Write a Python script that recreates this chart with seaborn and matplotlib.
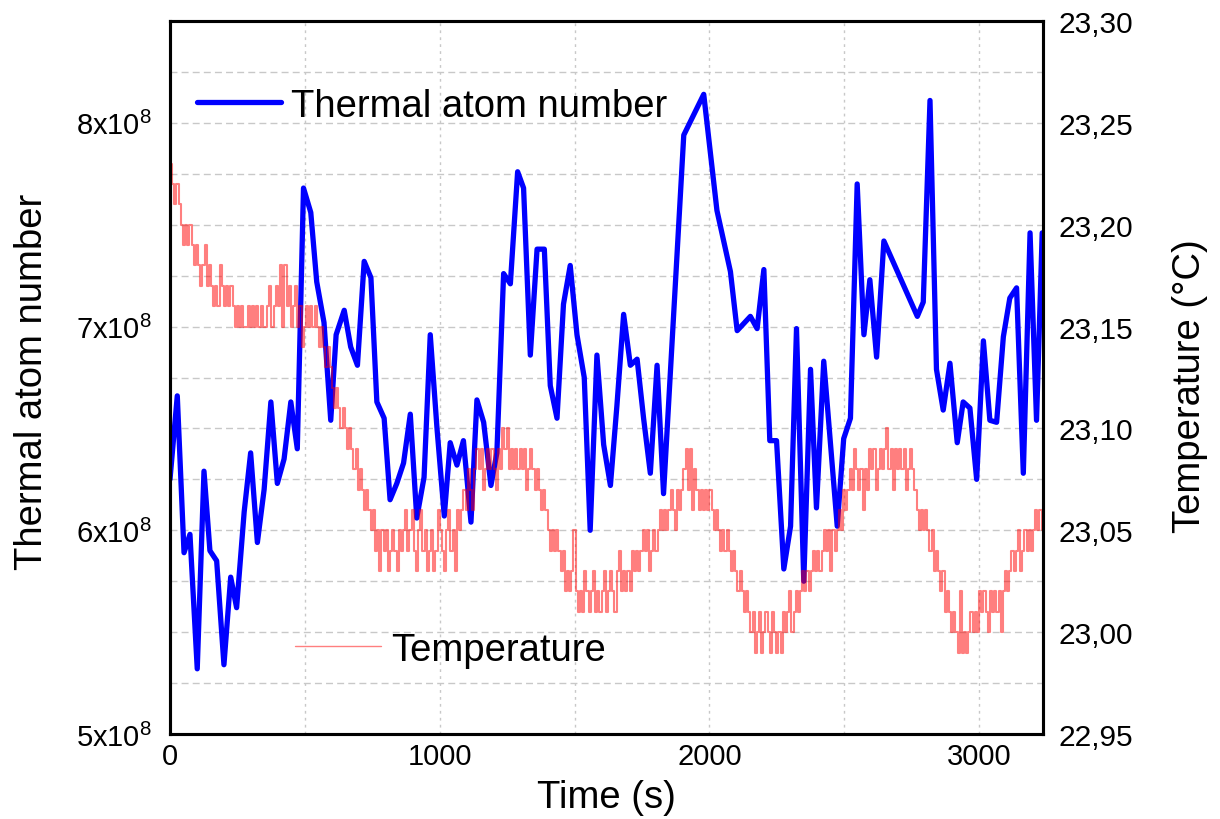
import numpy as np
import pandas as pd
import matplotlib
matplotlib.use("Agg")
import matplotlib.pyplot as plt
import seaborn as sns
from matplotlib.ticker import MultipleLocator, FuncFormatter
from matplotlib.lines import Line2D

# ---------------- data ----------------
atom_time_s = [0, 27, 52, 74, 101, 126, 148, 173, 200, 225, 247, 275, 299, 324, 349, 374,
               398, 423, 448, 472, 495, 522, 544, 571, 596, 616, 646, 670, 695, 720, 745,
               767, 794, 816, 841, 866, 891, 915, 942, 965, 990, 1017, 1039, 1064, 1088,
               1116, 1138, 1163, 1190, 1212, 1237, 1262, 1289, 1311, 1336, 1361, 1388,
               1410, 1435, 1459, 1484, 1509, 1536, 1558, 1583, 1608, 1633, 1657, 1682,
               1707, 1732, 1756, 1781, 1806, 1830, 1905, 1979, 2028, 2078, 2103, 2152,
               2177, 2202, 2224, 2249, 2276, 2301, 2323, 2350, 2375, 2397, 2424, 2474,
               2498, 2523, 2548, 2573, 2595, 2620, 2647, 2771, 2793, 2818, 2842, 2867,
               2892, 2919, 2941, 2966, 2991, 3016, 3040, 3065, 3090, 3114, 3139, 3164,
               3189, 3213, 3234]
atom_number_1e8 = [6.25, 6.66, 5.89, 5.98, 5.32, 6.29, 5.90, 5.85, 5.34, 5.77, 5.62, 6.09,
                   6.38, 5.94, 6.20, 6.63, 6.23, 6.35, 6.63, 6.40, 7.68, 7.56, 7.22, 7.02,
                   6.54, 6.96, 7.08, 6.90, 6.81, 7.32, 7.24, 6.63, 6.55, 6.15, 6.23, 6.33,
                   6.57, 6.06, 6.26, 6.96, 6.50, 6.07, 6.43, 6.32, 6.44, 6.04, 6.64, 6.53,
                   6.22, 6.38, 7.26, 7.21, 7.76, 7.68, 6.86, 7.38, 7.38, 6.71, 6.55, 7.11,
                   7.30, 6.96, 6.75, 6.00, 6.86, 6.42, 6.22, 6.61, 7.06, 6.81, 6.84, 6.55,
                   6.28, 6.81, 6.18, 7.94, 8.14, 7.57, 7.27, 6.98, 7.05, 6.99, 7.28, 6.44,
                   6.44, 5.81, 6.02, 6.99, 5.75, 6.79, 6.11, 6.83, 6.02, 6.45, 6.55, 7.70,
                   6.96, 7.23, 6.85, 7.42, 7.05, 7.12, 8.11, 6.79, 6.59, 6.82, 6.43, 6.63,
                   6.60, 6.25, 6.93, 6.54, 6.53, 6.95, 7.14, 7.19, 6.28, 7.46, 6.54, 7.46]

# temperature in units of 0.01 degC, one reading every 8 s
TEMP_SAMPLE_S = 8
temp_centideg = [
    2323, 2322, 2321, 2322, 2321, 2320, 2319, 2320, 2319, 2320,
    2319, 2318, 2319, 2318, 2317, 2318, 2319, 2317, 2318, 2317,
    2316, 2317, 2316, 2318, 2317, 2316, 2317, 2316, 2317, 2316,
    2315, 2316, 2315, 2316, 2315, 2315, 2316, 2315, 2316, 2315,
    2316, 2315, 2316, 2315, 2315, 2316, 2317, 2315, 2316, 2317,
    2316, 2318, 2315, 2318, 2316, 2317, 2315, 2316, 2317, 2315,
    2316, 2314, 2315, 2316, 2315, 2316, 2315, 2316, 2315, 2314,
    2315, 2314, 2313, 2314, 2313, 2312, 2311, 2312, 2311, 2310,
    2311, 2310, 2309, 2310, 2309, 2308, 2309, 2307, 2308, 2307,
    2306, 2307, 2306, 2305, 2306, 2304, 2305, 2303, 2305, 2304,
    2305, 2303, 2304, 2305, 2304, 2303, 2305, 2304, 2305, 2306,
    2304, 2305, 2306, 2304, 2303, 2305, 2306, 2304, 2305, 2303,
    2304, 2305, 2303, 2304, 2306, 2305, 2304, 2303, 2305, 2306,
    2304, 2305, 2303, 2306, 2305, 2306, 2307, 2306, 2308, 2307,
    2306, 2308, 2309, 2308, 2309, 2307, 2308, 2309, 2308, 2309,
    2308, 2307, 2309, 2308, 2310, 2309, 2310, 2308, 2309, 2308,
    2309, 2308, 2309, 2308, 2309, 2307, 2308, 2309, 2308, 2307,
    2308, 2307, 2306, 2307, 2306, 2305, 2304, 2305, 2304, 2305,
    2304, 2303, 2304, 2302, 2303, 2302, 2303, 2305, 2302, 2301,
    2302, 2301, 2303, 2302, 2301, 2302, 2303, 2301, 2302, 2301,
    2302, 2303, 2301, 2302, 2303, 2302, 2301, 2303, 2304, 2302,
    2303, 2302, 2303, 2302, 2304, 2303, 2304, 2303, 2304, 2305,
    2304, 2305, 2303, 2304, 2305, 2304, 2305, 2306, 2305, 2306,
    2305, 2306, 2307, 2306, 2305, 2307, 2306, 2307, 2308, 2309,
    2307, 2309, 2306, 2308, 2307, 2306, 2307, 2306, 2307, 2306,
    2307, 2306, 2305, 2306, 2305, 2304, 2305, 2304, 2305, 2304,
    2303, 2304, 2303, 2302, 2303, 2302, 2301, 2302, 2301, 2300,
    2301, 2299, 2300, 2301, 2299, 2300, 2301, 2300, 2299, 2301,
    2300, 2299, 2300, 2299, 2301, 2300, 2301, 2302, 2300, 2301,
    2302, 2301, 2302, 2303, 2302, 2303, 2302, 2303, 2304, 2303,
    2304, 2303, 2304, 2305, 2304, 2305, 2303, 2305, 2304, 2305,
    2306, 2305, 2307, 2306, 2307, 2308, 2307, 2309, 2308, 2307,
    2308, 2306, 2308, 2307, 2309, 2308, 2309, 2307, 2308, 2309,
    2308, 2309, 2310, 2308, 2309, 2307, 2309, 2308, 2309, 2308,
    2309, 2307, 2308, 2309, 2308, 2307, 2306, 2305, 2306, 2305,
    2306, 2305, 2304, 2305, 2303, 2304, 2303, 2302, 2303, 2301,
    2302, 2301, 2300, 2301, 2300, 2299, 2302, 2299, 2300, 2299,
    2300, 2301, 2300, 2301, 2300, 2302, 2301, 2302, 2301, 2300,
    2302, 2301, 2302, 2301, 2302, 2300, 2302, 2303, 2302, 2303,
    2304, 2303, 2304, 2305, 2303, 2304, 2305, 2304, 2305, 2304,
    2305, 2306, 2305, 2306, 2305, 2306,
]

time_ticks = [0, 1000, 2000, 3000]
atom_ticks_1e8 = [5, 6, 7, 8]
temp_ticks = [22.95, 23.00, 23.05, 23.10, 23.15, 23.20, 23.25, 23.30]

# ---------------- styling ----------------
sns.set_theme(style="white")
plt.rcParams["font.family"] = ["Liberation Sans", "DejaVu Sans"]
plt.rcParams["mathtext.fontset"] = "custom"
plt.rcParams["mathtext.rm"] = "Liberation Sans"
plt.rcParams["text.color"] = "black"
plt.rcParams["axes.labelcolor"] = "black"

W, H = 1220, 820
fig = plt.figure(figsize=(W / 100, H / 100), dpi=100)
ax = fig.add_axes([170 / W, 1 - 735 / H, 873 / W, 713 / H])

atoms = pd.DataFrame({"t": atom_time_s, "n": np.array(atom_number_1e8) * 1e8})
sns.lineplot(data=atoms, x="t", y="n", ax=ax, color="#0000ff", linewidth=3.8,
             estimator=None, legend=False)

ax2 = ax.twinx()
temp = pd.DataFrame({"t": np.arange(len(temp_centideg)) * TEMP_SAMPLE_S,
                     "T": np.array(temp_centideg) / 100.0})
sns.lineplot(data=temp, x="t", y="T", ax=ax2, color="red", alpha=0.5, linewidth=1.5,
             drawstyle="steps-post", estimator=None, legend=False)

ax.set_xlim(0, 3237)
ax.set_ylim(5e8, 8.5e8)
ax2.set_ylim(22.95, 23.30)

ax.set_xticks(time_ticks)
ax.set_xticklabels([str(v) for v in time_ticks])
ax.xaxis.set_minor_locator(MultipleLocator(500))
ax.set_yticks([v * 1e8 for v in atom_ticks_1e8])
ax.set_yticklabels([r"$\mathregular{%dx10^{8}}$" % v for v in atom_ticks_1e8])
ax.yaxis.set_minor_locator(MultipleLocator(0.25e8))

ax2.set_yticks(temp_ticks)
ax2.yaxis.set_major_formatter(FuncFormatter(lambda v, p: f"{v:.2f}".replace(".", ",")))

ax.grid(which="both", axis="y", color="#c8c8c8", linestyle=(0, (5, 3)), linewidth=1.0)
ax.grid(which="both", axis="x", color="#c8c8c8", linestyle=(0, (2, 3)), linewidth=1.0)
ax2.grid(False)

ax.tick_params(which="both", length=0, labelsize=21, colors="black")
ax.tick_params(axis="y", pad=13)
ax.tick_params(axis="x", pad=6)
ax2.tick_params(which="both", length=0, labelsize=21.5, pad=11, colors="black")

for a in (ax, ax2):
    for s in a.spines.values():
        s.set_color("black")
        s.set_linewidth(2.2)

ax.set_xlabel("Time (s)", fontsize=27.5, color="black")
ax.xaxis.set_label_coords(0.5, -0.063)
ax.set_ylabel("Thermal atom number", fontsize=27.5, color="black")
ax.yaxis.set_label_coords(-0.137, 0.495)
ax2.set_xlabel("")
ax2.set_ylabel("Temperature (°C)", fontsize=27.5, color="black")
ax2.yaxis.set_label_coords(1.148, 0.49)

leg1 = ax.legend(handles=[Line2D([], [], color="#0000ff", linewidth=3.8)],
                 labels=["Thermal atom number"], loc="center left",
                 bbox_to_anchor=(0.031, 0.881), frameon=False, fontsize=27.5,
                 handlelength=2.2, handletextpad=0.27, borderpad=0, borderaxespad=0,
                 labelcolor="black")
leg2 = ax2.legend(handles=[Line2D([], [], color="red", alpha=0.5, linewidth=1.0)],
                  labels=["Temperature"], loc="center left",
                  bbox_to_anchor=(0.143, 0.118), frameon=False, fontsize=27.5,
                  handlelength=2.25, handletextpad=0.27, borderpad=0, borderaxespad=0,
                  labelcolor="black")

fig.savefig("out.png", dpi=100)
